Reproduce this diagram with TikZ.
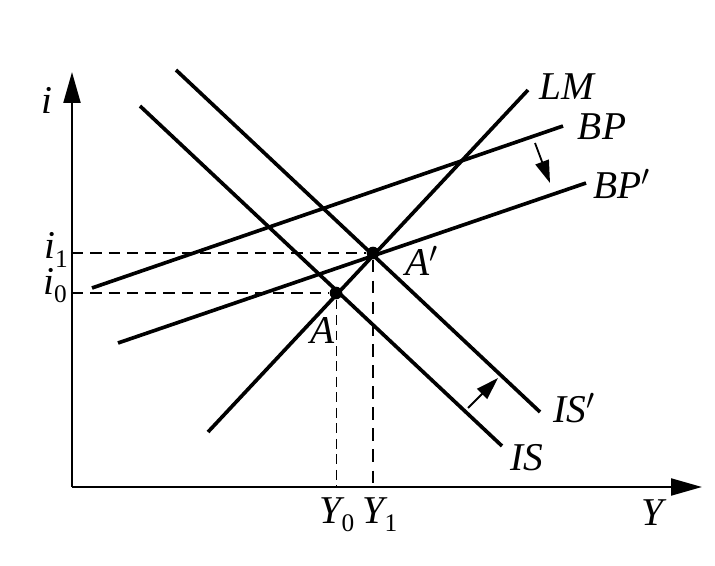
\documentclass[tikz,border=0pt]{standalone}
\usepackage{fontspec}
\setmainfont{Liberation Serif}
\usetikzlibrary{arrows.meta}
\newcommand{\idx}[1]{\raisebox{-0.45ex}{\upshape\fontsize{18}{18}\selectfont #1}}

\begin{document}
\begin{tikzpicture}[
    x=0.025cm, y=-0.025cm,
    every node/.style={font=\fontsize{28}{32}\selectfont\itshape, inner sep=0pt},
    curve/.style={line width=2.6pt},
    axis/.style={line width=1.7pt, -{Triangle[length=22pt, width=12pt]}},
    guide/.style={line width=0.8pt, dash pattern=on 8pt off 5pt},
    guidebold/.style={line width=1.8pt, dash pattern=on 9pt off 6pt},
    shiftarrow/.style={line width=1.3pt, -{Triangle[length=16pt, width=10pt]}},
    dot/.style={circle, fill=black, minimum size=9pt, inner sep=0pt}
]
\useasboundingbox (0,0) rectangle (715,565);

% Axes
\coordinate (O) at (72,487);
\coordinate (itop) at (72,72);
\coordinate (Yend) at (702,487);
\draw[axis] (O) -- (itop);
\draw[axis] (O) -- (Yend);
\node (ilab) at (47,100) {i};
\node (Ylab) at (652,513) {Y};

% Curve end points
\coordinate (LMa) at (208,432);  \coordinate (LMb) at (528,90);
\coordinate (BPa) at (92,288);   \coordinate (BPb) at (563,126);
\coordinate (BPpa) at (118,343); \coordinate (BPpb) at (586,183);
\coordinate (ISa) at (140,106);  \coordinate (ISb) at (502,446);
\coordinate (ISpa) at (176,70);  \coordinate (ISpb) at (540,412);

% Curves
\draw[curve] (LMa) -- (LMb);
\draw[curve] (BPa) -- (BPb);
\draw[curve] (BPpa) -- (BPpb);
\draw[curve] (ISa) -- (ISb);
\draw[curve] (ISpa) -- (ISpb);

% Curve labels
\node (LMlab) at (567,87) {LM};
\node (BPlab) at (602,127) {BP};
\node (BPplab) at (622,184) {BP$'$};
\node (ISplab) at (574,408) {IS$'$};
\node (ISlab) at (527,458) {IS};

% Equilibria
\node[dot] (A) at (336,293) {};
\node[dot] (Ap) at (373,253) {};
\node (Alab) at (323,330) {A};
\node (Aplab) at (422,261) {A$'$};

% Guide lines
\coordinate (i0) at (72,293);
\coordinate (i1) at (72,253);
\coordinate (Y0) at (336,487);
\coordinate (Y1) at (373,487);
\draw[guide] (i1) -- (Ap);
\draw[guide] (i0) -- (A);
\draw[line width=0.6pt, dash pattern=on 7pt off 4pt] (A) -- (Y0);
\draw[guidebold] (Ap) -- (Y1);

% Axis labels
\node (i1lab) at (56,250) {i\idx{1}};
\node (i0lab) at (55,286) {i\idx{0}};
\node (Y0lab) at (337,515) {Y\idx{0}};
\node (Y1lab) at (380,515) {Y\idx{1}};

% Shift arrows
\coordinate (bpfrom) at (535,143);
\coordinate (bpto) at (550,183);
\coordinate (isfrom) at (468,408);
\coordinate (isto) at (498,378);
\draw[shiftarrow] (bpfrom) -- (bpto);
\draw[shiftarrow] (isfrom) -- (isto);

\end{tikzpicture}
\end{document}
